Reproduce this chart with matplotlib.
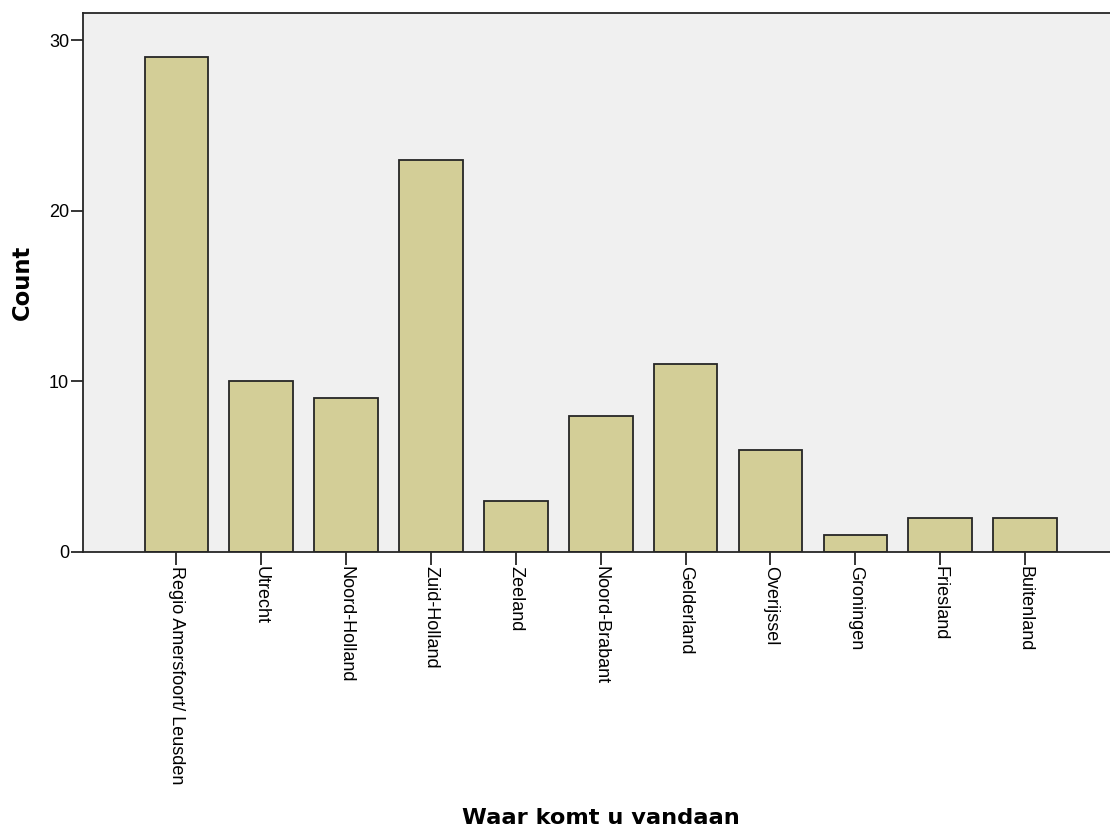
import matplotlib.pyplot as plt
import numpy as np

categories = ["Regio Amersfoort/ Leusden", "Utrecht", "Noord-Holland", "Zuid-Holland",
              "Zeeland", "Noord-Brabant", "Gelderland", "Overijssel", "Groningen",
              "Friesland", "Buitenland"]
counts = [29, 10, 9, 23, 3, 8, 11, 6, 1, 2, 2]
yticks = [0, 10, 20, 30]

plt.rcParams['font.family'] = ['Liberation Sans', 'DejaVu Sans']

fig = plt.figure(figsize=(11.1, 8.27), dpi=100)
ax = fig.add_axes([83 / 1110, 1 - 552 / 827, (1110 - 83) / 1110, (552 - 13) / 827])
ax.set_facecolor('#f0f0f0')

x = np.arange(len(categories))
ax.bar(x, counts, width=0.75, color='#d3ce97', edgecolor='#262626', linewidth=1.3, zorder=2)

ax.set_xlim(-1.1, 11.0)
ax.set_ylim(0, 31.6)
ax.set_yticks(yticks)
ax.set_xticks(x)
ax.set_xticklabels(categories, rotation=270, fontsize=13)
ax.tick_params(axis='y', labelsize=13, length=9, width=1.3, direction='out', color='#262626', pad=1)
ax.tick_params(axis='x', length=9, width=1.3, direction='out', color='#262626', pad=1)

for side in ['left', 'top', 'bottom']:
    ax.spines[side].set_color('#262626')
    ax.spines[side].set_linewidth(1.3)
ax.spines['right'].set_visible(False)

# SPSS-style bold axis titles
ax.set_ylabel("Count", fontsize=16.3, fontweight='bold', family='DejaVu Sans', labelpad=11)
fig.text(601 / 1110, 1 - 824 / 827, "Waar komt u vandaan", fontsize=16.2, fontweight='bold',
         family='DejaVu Sans', ha='center', va='baseline')

fig.savefig("out.png", dpi=100)
